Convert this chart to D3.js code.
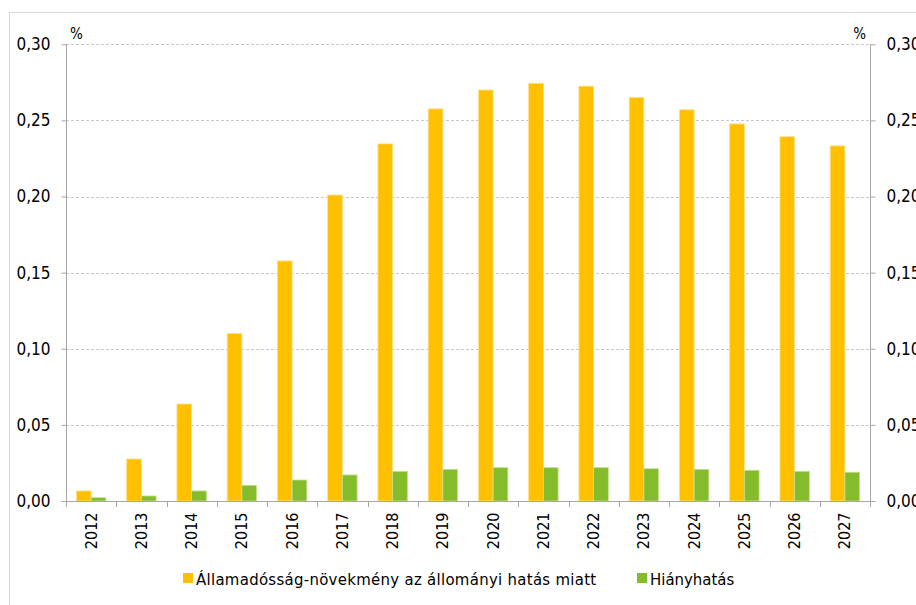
<!DOCTYPE html>
<html><head><meta charset="utf-8">
<script src="https://cdn.jsdelivr.net/npm/d3@7"></script>
<style>
body{margin:0;background:#fff;}
svg{display:block;font-family:"DejaVu Sans Condensed","DejaVu Sans",sans-serif;}
</style></head>
<body>
<svg id="c" width="916" height="605"></svg>
<script>
const years = ["2012","2013","2014","2015","2016","2017","2018","2019","2020","2021","2022","2023","2024","2025","2026","2027"];
const stockEffect = [0.0066,0.0276,0.0637,0.110,0.1577,0.201,0.2346,0.2576,0.270,0.2744,0.2725,0.265,0.257,0.2477,0.2393,0.2333];
const deficitEffect = [0.0022,0.0033,0.0066,0.0103,0.0138,0.0171,0.0195,0.0208,0.0219,0.0219,0.0219,0.0212,0.0208,0.0202,0.0195,0.0189];
const seriesNames = ["Államadósság-növekmény az állományi hatás miatt","Hiányhatás"];
const yTicks = [0,0.05,0.10,0.15,0.20,0.25,0.30];
const unitLabel = "%";

const colors = ["#FFC000","#84BC2C"];
const edges = ["#FFE08A","#C4E08F"];

const svg = d3.select("#c");
// outer frame
svg.append("rect").attr("x",9.5).attr("y",12.5).attr("width",930).attr("height",620)
  .attr("fill","none").attr("stroke","#d9d9d9");

const L=66, R=870, T=44.3, B=501;
const y = d3.scaleLinear().domain([0,0.3]).range([B,T]);
const x = d3.scaleBand().domain(years).range([L,R]).paddingInner(0).paddingOuter(0);
const xs = d3.scaleBand().domain([0,1]).range([0,x.bandwidth()]).paddingInner(0).paddingOuter(0.709);
const fmt = v => d3.format(".2f")(v).replace(".",",");

// grid
svg.append("g").selectAll("line").data(yTicks.filter(d=>d>0)).join("line")
  .attr("x1",L).attr("x2",R).attr("y1",d=>Math.round(y(d))+0.5).attr("y2",d=>Math.round(y(d))+0.5)
  .attr("stroke","#c8c8c8").attr("stroke-dasharray","3,2");

// bars
const series = [stockEffect, deficitEffect];
series.forEach((vals,si)=>{
  svg.append("g").selectAll("rect").data(years).join("rect")
    .attr("x",(d)=>x(d)+xs(si))
    .attr("y",(d,i)=>y(vals[i]))
    .attr("width",xs.bandwidth())
    .attr("height",(d,i)=>B-y(vals[i]))
    .attr("fill",colors[si]).attr("stroke",edges[si]).attr("stroke-width",0.8);
});

// left axis
const yl = svg.append("g").attr("transform",`translate(${L+0.5},0)`)
  .call(d3.axisLeft(y).tickValues(yTicks).tickFormat(fmt).tickSize(5).tickPadding(11));
// right axis
const yr = svg.append("g").attr("transform",`translate(${R+0.5},0)`)
  .call(d3.axisRight(y).tickValues(yTicks).tickFormat(fmt).tickSize(5).tickPadding(11));
[yl,yr].forEach(g=>{
  g.select(".domain").attr("stroke","#a6a6a6").attr("d",`M0,${T}V${B}`);
  g.selectAll(".tick line").attr("stroke","#a6a6a6");
  g.selectAll(".tick text").attr("font-size",17).attr("fill","#000").attr("font-family","DejaVu Sans Condensed");
});

// x axis
const xa = svg.append("g").attr("transform",`translate(0,${B+0.5})`)
  .call(d3.axisBottom(x).tickSize(0).tickPadding(0));
xa.select(".domain").attr("stroke","#a6a6a6").attr("d",`M${L-4},0H${R+5}`);
xa.selectAll(".tick text").attr("font-size",16).attr("fill","#000")
  .attr("font-family","DejaVu Sans Condensed")
  .attr("transform","rotate(-90)").attr("text-anchor","end").attr("dy","0.35em").attr("x",-11).attr("y",0);
// category boundary ticks
svg.append("g").selectAll("line").data(years.concat(["end"])).join("line")
  .attr("x1",(d,i)=>Math.round(L+i*x.step())+0.5).attr("x2",(d,i)=>Math.round(L+i*x.step())+0.5)
  .attr("y1",B).attr("y2",B+6).attr("stroke","#a6a6a6");

// unit labels
svg.append("text").attr("x",70).attr("y",39).attr("font-size",15).text(unitLabel);
svg.append("text").attr("x",866).attr("y",39).attr("font-size",15).attr("text-anchor","end").text(unitLabel);

// legend
const leg = [{x:183,label:seriesNames[0],c:colors[0],ls:0.3},{x:637,label:seriesNames[1],c:colors[1],ls:0}];
leg.forEach(l=>{
  svg.append("rect").attr("x",l.x).attr("y",573).attr("width",10).attr("height",10).attr("fill",l.c);
  svg.append("text").attr("x",l.x+13).attr("y",585).attr("font-size",16.6)
    .attr("letter-spacing",l.ls).text(l.label);
});
</script>
</body></html>
